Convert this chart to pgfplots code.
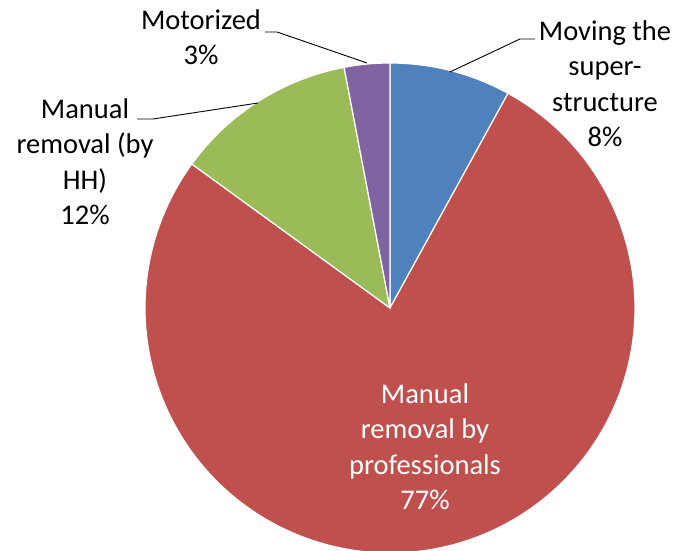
\documentclass[border=0pt]{standalone}
\usepackage{pgfplots}
\pgfplotsset{compat=1.18}
\usepackage{fontspec}
\setmainfont{Carlito}
\definecolor{cblue}{HTML}{4F81BD}
\definecolor{cred}{HTML}{C0504D}
\definecolor{cgreen}{HTML}{9BBB59}
\definecolor{cpurple}{HTML}{8064A2}
\tikzset{lbl/.style={font=\fontsize{28.5bp}{35.5bp}\selectfont, align=center, inner sep=0pt}}
\begin{document}
\begin{tikzpicture}
% slice shares in percent, clockwise from 12 o'clock
\def\pA{8}  % Moving the superstructure
\def\pB{77} % Manual removal by professionals
\def\pC{12} % Manual removal (by HH)
\def\pD{3}  % Motorized
\pgfmathsetmacro\aA{90-3.6*\pA}
\pgfmathsetmacro\aB{\aA-3.6*\pB}
\pgfmathsetmacro\aC{\aB-3.6*\pC}
\pgfmathsetmacro\aD{\aC-3.6*\pD}
\begin{axis}[x=1bp,y=1bp,xmin=0,xmax=674,ymin=0,ymax=551,hide axis,clip=true]
\path (0,0) rectangle (674,551);
\addplot[fill=cblue, draw=white, line width=1.2bp, domain=\aA:90, samples=30, variable=\t]
  ({390+245*cos(\t)},{243+245*sin(\t)}) -- (390,243) -- cycle;
\addplot[fill=cred, draw=white, line width=1.2bp, domain=\aB:\aA, samples=200, variable=\t]
  ({390+245*cos(\t)},{243+245*sin(\t)}) -- (390,243) -- cycle;
\addplot[fill=cgreen, draw=white, line width=1.2bp, domain=\aC:\aB, samples=40, variable=\t]
  ({390+245*cos(\t)},{243+245*sin(\t)}) -- (390,243) -- cycle;
\addplot[fill=cpurple, draw=white, line width=1.2bp, domain=\aD+360:\aC+360, samples=15, variable=\t]
  ({390+245*cos(\t)},{243+245*sin(\t)}) -- (390,243) -- cycle;
% leader lines
\draw[black, line width=0.9bp] (265,519) -- (277,519) -- (367,488);
\draw[black, line width=0.9bp] (535,512) -- (520,512) -- (450,479);
\draw[black, line width=0.9bp] (137,432) -- (153,432) -- (258,448);
% labels (base anchor = baseline of the last line)
\node[lbl, anchor=base] at (201,486) {Motorized\\3\%};
\node[lbl, anchor=base] at (605,404) {Moving the\\super-\\structure\\8\%};
\node[lbl, anchor=base] at (85,326) {Manual\\removal (by\\HH)\\12\%};
\node[lbl, anchor=base, text=white] at (425,41) {Manual\\removal by\\professionals\\77\%};
\end{axis}
\end{tikzpicture}
\end{document}
